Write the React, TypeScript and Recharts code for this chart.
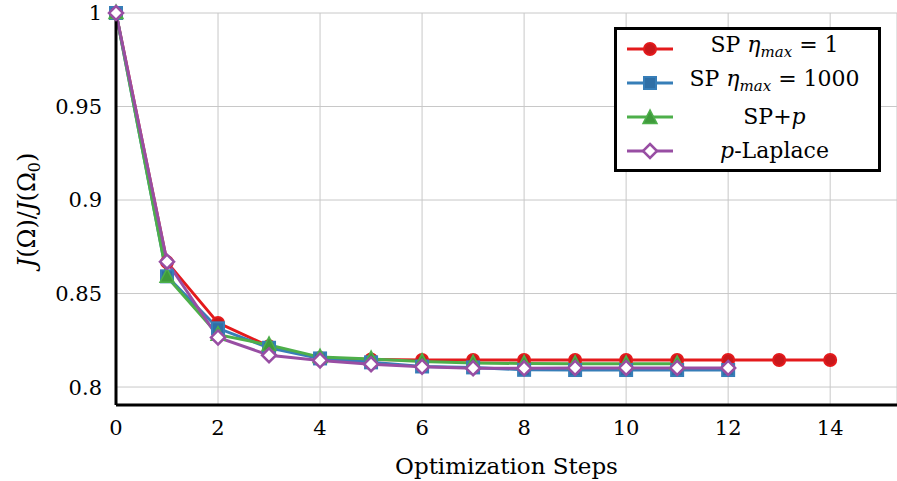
import React from 'react';
import { LineChart, Line, XAxis, YAxis, CartesianGrid } from 'recharts';

const steps = [0, 1, 2, 3, 4, 5, 6, 7, 8, 9, 10, 11, 12, 13, 14];
const spEta1 = [1, 0.8668, 0.8343, 0.8218, 0.8155, 0.8147, 0.8145, 0.8145, 0.8145, 0.8145, 0.8145, 0.8145, 0.8145, 0.8145, 0.8145];
const spEta1000 = [1, 0.8592, 0.8314, 0.821, 0.8153, 0.8132, 0.811, 0.8105, 0.8092, 0.8091, 0.8091, 0.8091, 0.8091];
const spP = [1, 0.859, 0.828, 0.8225, 0.816, 0.815, 0.8136, 0.8128, 0.8126, 0.8125, 0.8124, 0.8124];
const pLaplace = [1, 0.867, 0.8265, 0.817, 0.8142, 0.8122, 0.8108, 0.8101, 0.81, 0.8102, 0.8102, 0.8102, 0.8102];

const xTicks = [0, 2, 4, 6, 8, 10, 12, 14];
const yTicks = [0.8, 0.85, 0.9, 0.95, 1];

const RED = '#e41a1c';
const BLUE = '#377eb8';
const GREEN = '#4daf4a';
const PURPLE = '#984ea3';

const FONT = '"DejaVu Serif", serif';

const toPoints = (vals: number[]) => vals.map((v, i) => ({ step: steps[i], value: v }));

const Circle = (props: any) => {
  const { cx, cy, index } = props;
  return <circle key={index} cx={cx} cy={cy} r={6} fill="#c8181b" stroke={RED} strokeWidth={2} />;
};
const Square = (props: any) => {
  const { cx, cy, index } = props;
  return <rect key={index} x={cx - 6} y={cy - 6} width={12} height={12} fill="#2f6fa6" stroke={BLUE} strokeWidth={2} />;
};
const Triangle = (props: any) => {
  const { cx, cy, index } = props;
  return (
    <polygon
      key={index}
      points={`${cx},${cy - 8} ${cx - 7},${cy + 5.5} ${cx + 7},${cy + 5.5}`}
      fill="#3f9a3c"
      stroke={GREEN}
      strokeWidth={1.5}
    />
  );
};
const Diamond = (props: any) => {
  const { cx, cy, index } = props;
  return (
    <polygon
      key={index}
      points={`${cx},${cy - 7} ${cx + 7},${cy} ${cx},${cy + 7} ${cx - 7},${cy}`}
      fill="#ffffff"
      stroke={PURPLE}
      strokeWidth={2.5}
    />
  );
};

const legendItems = [
  { color: RED, marker: 'circle', label: <>SP <i>η<sub style={{ fontSize: 15 }}>max</sub></i> = 1</> },
  { color: BLUE, marker: 'square', label: <>SP <i>η<sub style={{ fontSize: 15 }}>max</sub></i> = 1000</> },
  { color: GREEN, marker: 'triangle', label: <>SP+<i>p</i></> },
  { color: PURPLE, marker: 'diamond', label: <><i>p</i>-Laplace</> },
];

const LegendSample = ({ color, marker }: { color: string; marker: string }) => (
  <svg width={50} height={22} style={{ flex: 'none' }}>
    <line x1={2} y1={11} x2={48} y2={11} stroke={color} strokeWidth={3} />
    {marker === 'circle' && <Circle cx={25} cy={11} index={0} />}
    {marker === 'square' && <Square cx={25} cy={11} index={0} />}
    {marker === 'triangle' && <Triangle cx={25} cy={12} index={0} />}
    {marker === 'diamond' && <Diamond cx={25} cy={11} index={0} />}
  </svg>
);

const LegendBox = () => (
  <div
    style={{
      position: 'absolute',
      left: 614,
      top: 27,
      border: '3px solid #000',
      background: '#fff',
      width: 267,
      height: 145,
      boxSizing: 'border-box',
      padding: '2px 4px 2px 8px',
      fontFamily: FONT,
      fontSize: 22,
      color: '#000',
    }}
  >
    {legendItems.map((it, i) => (
      <div key={i} style={{ display: 'flex', alignItems: 'center', height: 34, lineHeight: '34px' }}>
        <LegendSample color={it.color} marker={it.marker} />
        <div style={{ flex: 1, textAlign: 'center', whiteSpace: 'nowrap' }}>{it.label}</div>
      </div>
    ))}
  </div>
);

const YLabel = () => (
  <text
    transform="translate(35,210) rotate(-90)"
    textAnchor="middle"
    fontFamily={FONT}
    fontSize={24}
    fill="#000"
  >
    <tspan fontStyle="italic">J</tspan>
    <tspan>(Ω)/</tspan>
    <tspan fontStyle="italic">J</tspan>
    <tspan>(Ω</tspan>
    <tspan fontSize={16} dy={5}>0</tspan>
    <tspan dy={-5}>)</tspan>
  </text>
);

export default function App() {
  const tickStyle = { fontFamily: FONT, fontSize: 21, fill: '#000' };
  return (
    <div style={{ position: 'absolute', left: 0, top: 0, width: 897, height: 481, background: '#fff', fontFamily: FONT }}>
      <LineChart width={897} height={481} margin={{ top: 13, right: 0, bottom: 0, left: 0 }} style={{ fontFamily: FONT, overflow: 'visible' }}>
        <CartesianGrid xAxisId="main" yAxisId="main" stroke="#c8c8c8" strokeWidth={1} />
        <XAxis
          xAxisId="main"
          type="number"
          dataKey="step"
          domain={[0, 15.31]}
          ticks={xTicks}
          height={76}
          tickLine={false}
          axisLine={{ stroke: '#000', strokeWidth: 3 }}
          tick={tickStyle}
          tickMargin={9}
          label={{ value: 'Optimization Steps', position: 'insideBottom', offset: 7, style: { fontFamily: FONT, fontSize: 23, fill: '#000' } }}
        />
        <XAxis
          xAxisId="top"
          orientation="top"
          type="number"
          domain={[0, 15.31]}
          height={0}
          tick={false}
          tickLine={false}
          axisLine={{ stroke: '#000', strokeWidth: 3 }}
        />
        <YAxis
          yAxisId="main"
          type="number"
          domain={[0.7904, 1]}
          ticks={yTicks}
          width={116}
          tickLine={false}
          axisLine={{ stroke: '#000', strokeWidth: 3 }}
          tick={tickStyle}
          tickMargin={8}
          tickFormatter={(v: number) => String(v)}
          label={<YLabel />}
        />
        <Line xAxisId="main" yAxisId="main" data={toPoints(spEta1)} dataKey="value" stroke={RED} strokeWidth={3} dot={Circle} activeDot={false} isAnimationActive={false} name="SP eta_max = 1" />
        <Line xAxisId="main" yAxisId="main" data={toPoints(spEta1000)} dataKey="value" stroke={BLUE} strokeWidth={3} dot={Square} activeDot={false} isAnimationActive={false} name="SP eta_max = 1000" />
        <Line xAxisId="main" yAxisId="main" data={toPoints(spP)} dataKey="value" stroke={GREEN} strokeWidth={3} dot={Triangle} activeDot={false} isAnimationActive={false} name="SP+p" />
        <Line xAxisId="main" yAxisId="main" data={toPoints(pLaplace)} dataKey="value" stroke={PURPLE} strokeWidth={3} dot={Diamond} activeDot={false} isAnimationActive={false} name="p-Laplace" />
      </LineChart>
      <LegendBox />
    </div>
  );
}
